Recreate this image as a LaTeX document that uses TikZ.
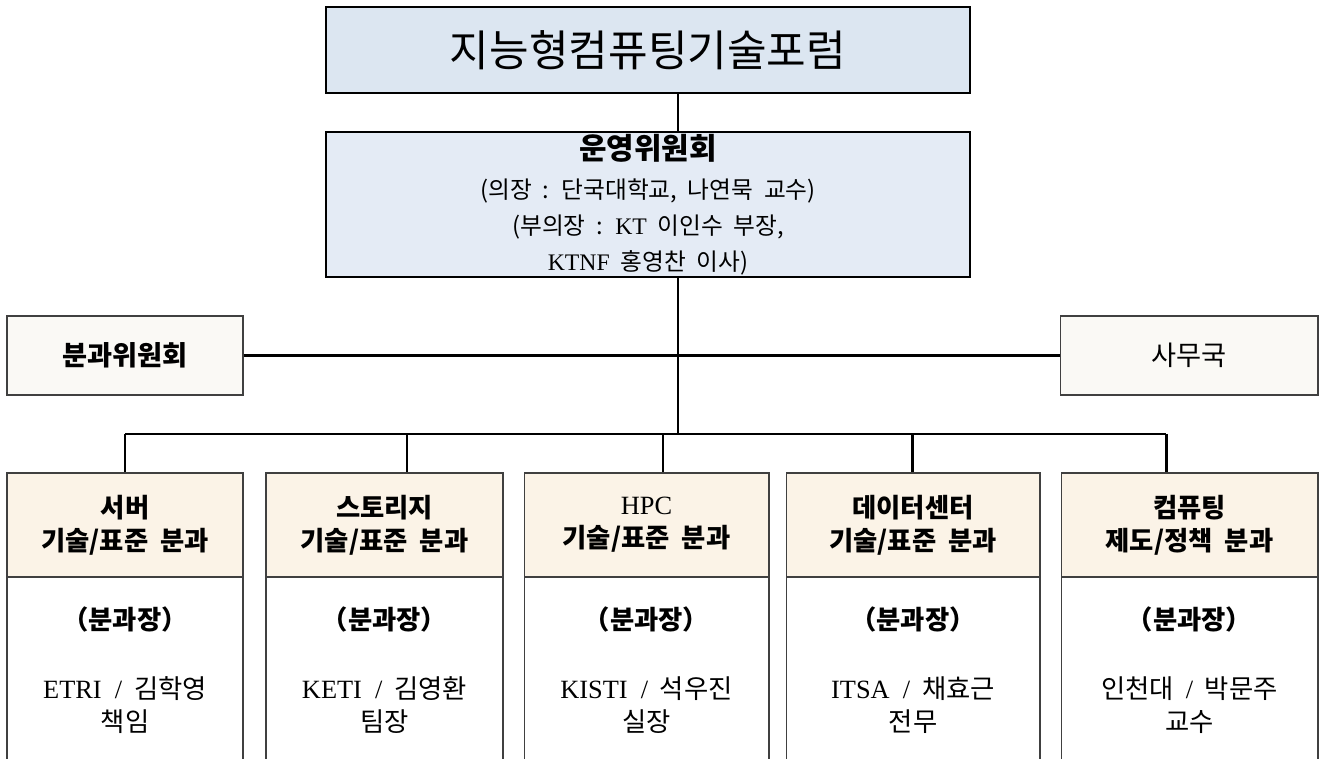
\documentclass[tikz,border=0pt]{standalone}
\usepackage{fontspec}
\usepackage{xcolor}
\usepackage{tikz}
\setmainfont{Noto Sans CJK KR}[WordSpace=2]
\newfontfamily\lat{Liberation Serif}[WordSpace=2]

\definecolor{topblue}{HTML}{DCE6F1}
\definecolor{boardblue}{HTML}{E4EBF5}
\definecolor{sidegray}{HTML}{FAF9F5}
\definecolor{headbeige}{HTML}{FBF3E7}
\definecolor{edgegray}{HTML}{404040}

\begin{document}
\begin{tikzpicture}[x=0.02cm, y=-0.02cm,
    blue box/.style={rectangle, draw=black, line width=1.4pt, inner sep=0pt, align=center, minimum width=12.88cm},
    side box/.style={rectangle, draw=edgegray, line width=0.6pt, fill=sidegray, inner sep=0pt, minimum height=1.58cm, font=\fontsize{15.5}{19}\selectfont},
    head box/.style={rectangle, draw=edgegray, line width=0.6pt, fill=headbeige, inner sep=0pt, align=center, minimum height=2.08cm, font=\fontsize{15}{18.7}\selectfont\bfseries},
    body box/.style={rectangle, draw=edgegray, line width=0.6pt, fill=white, inner sep=0pt, align=center, minimum height=3.72cm, font=\fontsize{15}{18.7}\selectfont},
    link/.style={line width=1.7pt}]
    \useasboundingbox (0,0) rectangle (1326,759);

    \node[blue box, fill=topblue, minimum height=1.72cm, font=\fontsize{24.5}{29}\selectfont] (T) at (648,50) {지능형컴퓨팅기술포럼};
    \node[blue box, fill=boardblue, minimum height=2.9cm, font=\fontsize{13.5}{20.4}\selectfont] (C) at (648,204.5)
        {{\fontsize{17}{20}\selectfont\bfseries 운영위원회}\\[2pt]
         (의장 : 단국대학교, 나연묵 교수)\\
         (부의장 : {\lat KT} 이인수 부장,\\
         {\lat KTNF} 홍영찬 이사)};

    \node[side box, minimum width=4.72cm] (L) at (125,355.5) {\bfseries 분과위원회};
    \node[side box, minimum width=5.16cm] (R) at (1189,355.5) {사무국};

    \node[head box, minimum width=4.72cm] (H1) at (125,525) {서버\\기술/표준 분과};
    \node[head box, minimum width=4.74cm] (H2) at (384.5,525) {스토리지\\기술/표준 분과};
    \node[head box, minimum width=4.9cm] (H3) at (646.5,525) {{\lat\mdseries HPC}\\기술/표준 분과};
    \node[head box, minimum width=5.08cm] (H4) at (913,525) {데이터센터\\기술/표준 분과};
    \node[head box, minimum width=5.14cm] (H5) at (1189.5,525) {컴퓨팅\\제도/정책 분과};

    \node[body box, minimum width=4.72cm] (B1) at (125,670) {{\bfseries （분과장）}\\[21pt]{\lat ETRI /} 김학영\\책임};
    \node[body box, minimum width=4.74cm] (B2) at (384.5,670) {{\bfseries （분과장）}\\[21pt]{\lat KETI /} 김영환\\팀장};
    \node[body box, minimum width=4.9cm] (B3) at (646.5,670) {{\bfseries （분과장）}\\[21pt]{\lat KISTI /} 석우진\\실장};
    \node[body box, minimum width=5.08cm] (B4) at (913,670) {{\bfseries （분과장）}\\[21pt]{\lat ITSA /} 채효근\\전무};
    \node[body box, minimum width=5.14cm] (B5) at (1189.5,670) {{\bfseries （분과장）}\\[21pt]인천대 {\lat /} 박문주\\교수};

    \coordinate (J) at (678,434);
    \coordinate (d1) at (125,434);
    \coordinate (d2) at (407,434);
    \coordinate (d3) at (663,434);
    \coordinate (d4) at (912,434);
    \coordinate (d5) at (1166,434);

    \draw[link] (T.south -| J) -- (C.north -| J);
    \draw[link] (C.south -| J) -- (J);
    \draw[link] (L.east) -- (R.west);
    \draw[link] (d1) -- (d5);
    \foreach \i in {1,...,5}
        \draw[link] (d\i) -- (d\i |- H\i.north);
\end{tikzpicture}
\end{document}
